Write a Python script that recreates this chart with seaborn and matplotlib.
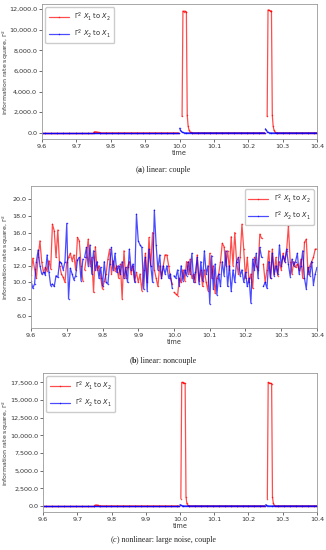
import numpy as np
import pandas as pd
import matplotlib
matplotlib.use("Agg")
import matplotlib.pyplot as plt
from matplotlib.lines import Line2D
from matplotlib.ticker import FuncFormatter
import seaborn as sns

sns.set_style("ticks")
plt.rcParams['font.family'] = ['DejaVu Sans']

LAB_12 = r"$\Gamma^2$ $X_1$ to $X_2$"
LAB_21 = r"$\Gamma^2$ $X_2$ to $X_1$"
X_TICKS = [9.6, 9.7, 9.8, 9.9, 10.0, 10.1, 10.2, 10.3, 10.4]
CAPTIONS = [("a", " linear: couple", "bold"),
            ("b", " linear: noncouple", "bold"),
            ("c", " nonlinear: large noise, couple", "italic")]

# segment starts (the traces are broken at 9.75, 10.0 and 10.25)
SEG_STARTS = [9.6, 9.75, 10.0, 10.25]
SEG_ENDS = [9.75, 10.0, 10.25, 10.4001]

# ---------------- panel (a): linear couple, dt = 0.0025 ----------------
NAN = np.nan
a_red_seg0 = [0.0]
a_red_seg1 = [40, 90, 110, 100, 80, 60, 40, 25, 10]
a_red_seg2 = [NAN, NAN, NAN, 1600, 11800, 11750, 11800, 11750, 11700, 1700, 700, 300, 120, 50, 20, 5]
a_red_seg3 = [NAN, NAN, 1600, 11900, 11900, 11850, 11800, 11800, 1700, 650, 250, 100, 30, 10]
a_blue_seg0 = [0.0]
a_blue_seg1 = [0.0]
a_blue_seg2 = [450, 280, 150, 80, 40, 20, 10]
a_blue_seg3 = [400, 250, 130, 70, 35, 15, 5]

# ---------------- panel (c): nonlinear large noise couple ----------------
c_red_seg0 = [0.0]
c_red_seg1 = [60, 100, 130, 120, 90, 60, 30, 15]
c_red_seg2 = [NAN, 1050, 17500, 17500, 17400, 17400, 17350, 1300, 350, 100, 30, 10]
c_red_seg3 = [NAN, NAN, 1050, 17500, 17450, 17400, 17350, 17300, 1300, 350, 100, 30, 10]
c_blue_seg0 = [0.0]
c_blue_seg1 = [0.0]
c_blue_seg2 = [200, 120, 60, 30, 10]
c_blue_seg3 = [180, 100, 50, 20, 5]

# ---------------- panel (b): linear noncouple, dt = 0.005 ----------------
b_red_seg0 = [10.9, 12.9, 11.6, 10.5, 13.0, 15.0, 12.4, 11.2, 11.8, 11.4,
              12.6, 11.6, 17.0, 16.2, 13.0, 16.3, 12.0, 11.0, 10.6, 10.0,
              12.4, 13.0, 13.5, 12.6, 13.3, 11.5, 15.4, 15.0, 12.0, 10.2]
b_red_seg1 = [11.5, 13.0, 15.2, 12.0, 13.0, 8.8, 14.3, 11.5, 12.0, 10.5,
              9.2, 10.2, 11.0, 12.8, 14.0, 11.0, 12.6, 11.4, 12.0, 10.5,
              12.2, 8.0, 13.8, 10.5, 11.8, 12.5, 11.0, 12.0, 10.2, 11.2,
              10.0, 11.0, 9.0, 11.5, 13.5, 10.0, 15.4, 12.0, 16.0, 11.5,
              10.5, 9.5, 12.0, 10.5, 12.0, 13.3, 13.3, 12.0, 10.5, 9.8]
b_red_seg2 = [8.8, 8.6, 8.4, 10.5, 10.0, 11.5, 10.2, 12.5, 11.0, 12.8,
              10.5, 11.0, 10.0, 13.3, 10.2, 11.5, 9.5, 11.5, 10.0, 9.0,
              13.5, 10.5, 12.0, 8.7, 10.5, 11.0, 12.5, 14.7, 14.3, 12.0,
              13.8, 11.5, 15.5, 12.0, 16.0, 12.5, 11.0, 13.0, 17.0, 14.0,
              10.5, 13.0, 10.0, 11.0, 9.3, 13.0, 12.0, 11.5, 15.8, 15.3]
b_red_seg3 = [12.2, 10.0, 11.5, 13.8, 10.5, 14.0, 11.0, 13.0, 10.8, 12.5,
              11.5, 13.5, 12.5, 13.8, 16.8, 12.5, 11.0, 12.5, 11.8, 12.2,
              11.5, 12.8, 10.5, 14.8, 15.2, 11.0, 12.0, 12.5, 13.0, 14.0, 14.0]
b_blue_seg0 = [10.2, 9.3, 9.8, 12.5, 13.9, 12.0, 11.0, 11.2, 10.9, 13.3,
               11.3, 9.6, 9.8, 9.5, 10.8, 10.6, 12.5, 12.3, 11.5, 12.5,
               17.1, 8.0, 11.7, 11.0, 10.3, 10.8, 12.7, 13.0, 10.2, 12.8]
b_blue_seg1 = [13.0, 14.2, 12.0, 14.5, 11.0, 13.8, 11.5, 12.5, 10.5, 11.8,
               9.6, 12.5, 10.0, 9.8, 12.2, 14.2, 11.5, 13.5, 11.2, 12.0,
               11.0, 12.5, 10.5, 11.8, 10.0, 14.0, 11.5, 12.2, 10.0, 18.2,
               15.0, 14.5, 14.2, 9.2, 13.0, 9.0, 14.0, 12.0, 10.0, 18.7,
               14.5, 11.5, 13.3, 10.5, 12.0, 11.0, 12.0, 10.5, 11.0, 9.3]
b_blue_seg2 = [10.8, 10.5, 11.5, 9.6, 12.0, 10.2, 11.5, 10.8, 12.5, 11.0,
               13.5, 10.0, 11.2, 13.0, 9.8, 12.5, 10.2, 13.8, 11.0, 12.0,
               7.4, 13.2, 9.2, 12.2, 8.5, 11.0, 9.5, 12.5, 10.8, 13.8,
               9.5, 12.0, 8.9, 11.5, 10.0, 12.5, 13.0, 10.8, 11.5, 10.0,
               11.2, 9.5, 10.5, 7.5, 12.8, 11.5, 13.5, 10.5, 14.2, 13.0]
b_blue_seg3 = [9.5, 10.0, 9.3, 12.5, 10.5, 13.5, 10.8, 12.0, 11.0, 14.5,
               12.0, 13.2, 12.5, 14.0, 12.2, 10.7, 12.8, 12.0, 12.5, 13.5,
               11.0, 12.0, 13.8, 10.5, 9.2, 11.8, 10.8, 12.5, 9.7, 11.0, 11.8]


def build(segs_red, segs_blue, dt, pad_zero):
    rows = []
    for lab, segs in ((LAB_12, segs_red), (LAB_21, segs_blue)):
        for k, vals in enumerate(segs):
            t = np.arange(SEG_STARTS[k], SEG_ENDS[k] - 1e-9, dt)
            v = list(vals)
            if pad_zero:
                v = v + [0.0] * (len(t) - len(v))
            v = v[:len(t)]
            t = t[:len(v)]
            for ti, vi in zip(t, v):
                rows.append((ti, vi, lab, k))
    df = pd.DataFrame(rows, columns=["time", "value", "series", "seg"])
    return df.dropna()


dfa = build([a_red_seg0, a_red_seg1, a_red_seg2, a_red_seg3],
            [a_blue_seg0, a_blue_seg1, a_blue_seg2, a_blue_seg3], 0.0025, True)
dfb = build([b_red_seg0, b_red_seg1, b_red_seg2, b_red_seg3],
            [b_blue_seg0, b_blue_seg1, b_blue_seg2, b_blue_seg3], 0.005, False)
dfc = build([c_red_seg0, c_red_seg1, c_red_seg2, c_red_seg3],
            [c_blue_seg0, c_blue_seg1, c_blue_seg2, c_blue_seg3], 0.0025, True)

W, H = 326, 550
fig = plt.figure(figsize=(W / 100, H / 100), dpi=100)


def box(l, r, t, b):
    return [l / W, (H - b) / H, (r - l) / W, (b - t) / H]


boxes = [(42, 317, 4, 139), (31, 317, 186, 328), (43, 317, 373, 512)]
axes = [fig.add_axes(box(*b)) for b in boxes]
palette = {LAB_12: "red", LAB_21: "blue"}
ylims = [(-590, 12480), (4.5, 21.6), (-860, 18830)]
yticks = [[0, 2000, 4000, 6000, 8000, 10000, 12000],
          [6, 8, 10, 12, 14, 16, 18, 20],
          [0, 2500, 5000, 7500, 10000, 12500, 15000, 17500]]
legloc = ["upper left", "upper right", "upper left"]

for ax, bx, df, yl, yt, loc in zip(axes, boxes, [dfa, dfb, dfc], ylims, yticks, legloc):
    sns.lineplot(data=df, x="time", y="value", hue="series", units="seg",
                 estimator=None, hue_order=[LAB_12, LAB_21], palette=palette,
                 linewidth=0.9, alpha=0.7, marker=".", markersize=2.2,
                 markeredgewidth=0, legend=False, ax=ax, sort=False)
    ax.set_xlim(9.6, 10.4)
    ax.set_ylim(*yl)
    ax.set_xticks(X_TICKS)
    ax.set_yticks(yt)
    ax.xaxis.set_major_formatter(FuncFormatter(lambda v, p: f"{v:.1f}"))
    ax.yaxis.set_major_formatter(FuncFormatter(lambda v, p: f"{v:,.1f}"))
    ax.tick_params(labelsize=4.6, length=2, width=0.5, pad=1.5, colors="#333333")
    ax.set_xlabel("time", fontsize=4.7, labelpad=1, color="#333333")
    ax.set_ylabel(r"information rate square, $\Gamma^2$", fontsize=4.5,
                  color="#333333", va="center")
    ax.yaxis.set_label_coords((6 - bx[0]) / (bx[1] - bx[0]), 0.5)
    for sp in ax.spines.values():
        sp.set_visible(True)
        sp.set_color("#999999")
        sp.set_linewidth(0.6)
    handles = [Line2D([], [], color="red", alpha=0.7, lw=0.9, marker=".", ms=2.2, mew=0),
               Line2D([], [], color="blue", alpha=0.7, lw=0.9, marker=".", ms=2.2, mew=0)]
    ax.legend(handles, [LAB_12, LAB_21], loc=loc, fontsize=4.8, frameon=True,
              handlelength=3.0, borderpad=0.5, labelspacing=0.6,
              framealpha=1, edgecolor="#cccccc")

# captions
renderer = fig.canvas.get_renderer()
cap_y = [170, 361, 540]
for (letter, rest, style), yy in zip(CAPTIONS, cap_y):
    kw = dict(family="Liberation Serif", fontsize=5.8, va="center")
    parts = [("(", {}), (letter, {"fontweight": "bold"} if style == "bold" else {"fontstyle": "italic"}),
             (")" + rest, {})]
    widths = []
    for txt, extra in parts:
        t = fig.text(0, 0, txt, **kw, **extra)
        widths.append(t.get_window_extent(renderer).width)
        t.remove()
    x = (W / 2) - sum(widths) / 2
    for (txt, extra), w in zip(parts, widths):
        fig.text(x / W, (H - yy) / H, txt, **kw, **extra)
        x += w

fig.savefig("out.png", dpi=100)
